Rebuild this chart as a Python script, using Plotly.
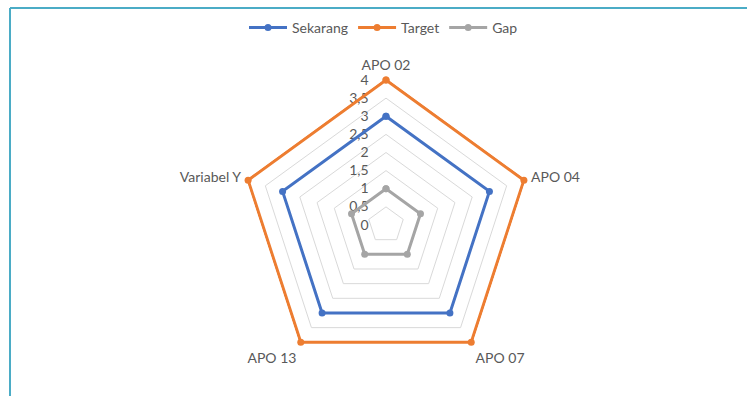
import plotly.graph_objects as go

categories = ["APO 02", "APO 04", "APO 07", "APO 13", "Variabel Y"]
sekarang = [3, 3, 3, 3, 3]
target = [4, 4, 4, 4, 4]
gap = [1, 1, 1, 1, 1]
tick_vals = [0, 0.5, 1, 1.5, 2, 2.5, 3, 3.5, 4]
tick_text = ["0", "0,5", "1", "1,5", "2", "2,5", "3", "3,5", "4"]

W, H = 747, 396
cx, cy = 386, 225
RMAX = 4.06
R = 145 * RMAX / 4

def closed(v):
    return list(v) + [v[0]]

fig = go.Figure()
series = [("Sekarang", sekarang, "#4472C4"), ("Target", target, "#ED7D31"), ("Gap", gap, "#A5A5A5")]
for name, vals, col in series:
    fig.add_trace(go.Scatterpolar(
        r=closed(vals), theta=closed(categories), name=name,
        mode="lines+markers", cliponaxis=False,
        line=dict(color=col, width=3),
        marker=dict(color=col, size=7),
    ))

fig.update_layout(
    width=W, height=H,
    margin=dict(l=0, r=0, t=0, b=0),
    paper_bgcolor="white",
    font=dict(family="Lato", size=14, color="#595959"),
    polar=dict(
        domain=dict(x=[(cx - R) / W, (cx + R) / W], y=[(H - cy - R) / H, (H - cy + R) / H]),
        gridshape="linear",
        bgcolor="white",
        radialaxis=dict(
            range=[0, RMAX], tickvals=tick_vals, ticktext=tick_text,
            angle=90, tickangle=90, showline=False,
            ticks="outside", ticklen=12, tickcolor="rgba(0,0,0,0)",
            gridcolor="#D9D9D9", gridwidth=1,
            tickfont=dict(size=14, color="#595959"),
            side="counterclockwise", layer="below traces",
        ),
        angularaxis=dict(
            direction="clockwise", rotation=90,
            showgrid=False, showline=False,
            ticks="outside", ticklen=2, tickcolor="rgba(0,0,0,0)",
            tickfont=dict(size=14, color="#595959"),
            layer="below traces",
        ),
    ),
    legend=dict(orientation="h", x=0.5 + 10 / W, xanchor="center", y=(H - 28) / H, yanchor="middle",
                font=dict(size=14, color="#595959"), itemwidth=38),
    shapes=[
        dict(type="line", xref="paper", yref="paper", x0=10 / W, x1=1, y0=(H - 8) / H, y1=(H - 8) / H,
             line=dict(color="#4BACC6", width=2)),
        dict(type="line", xref="paper", yref="paper", x0=10 / W, x1=10 / W, y0=0, y1=(H - 8) / H,
             line=dict(color="#4BACC6", width=2)),
    ],
)

fig.write_html("out.html")
